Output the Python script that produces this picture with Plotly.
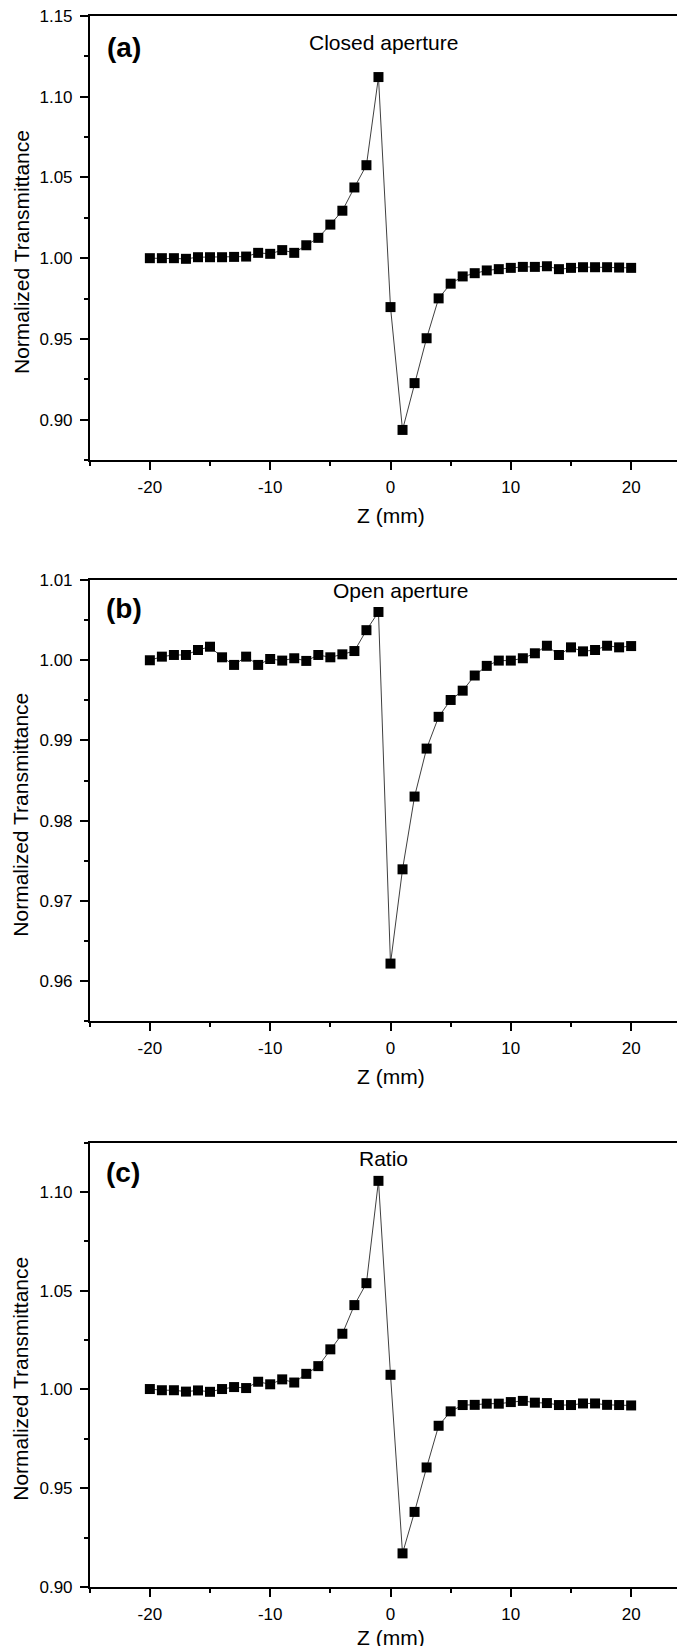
import plotly.graph_objects as go

z_mm = list(range(-20, 21))

closed_aperture = [
    1.000, 1.000, 1.000, 0.9996, 1.0006, 1.0006, 1.0006, 1.0008, 1.001, 1.0033,
    1.0027, 1.005, 1.0033, 1.008, 1.0126, 1.0208, 1.0294, 1.0438, 1.0576, 1.1122,
    0.9697, 0.8936, 0.9226, 0.9504, 0.9751, 0.9842, 0.9887, 0.9907, 0.9924, 0.9932,
    0.994, 0.9946, 0.9946, 0.995, 0.9932, 0.994, 0.9944, 0.9944, 0.9944, 0.9942, 0.994,
]

open_aperture = [
    1.0000, 1.00045, 1.00066, 1.00066, 1.00128, 1.00169, 1.00037, 0.99942, 1.00045, 0.99942,
    1.00016, 0.99996, 1.00025, 0.99992, 1.00066, 1.00037, 1.00074, 1.00115, 1.00375, 1.00602,
    0.96219, 0.97394, 0.98301, 0.98899, 0.99295, 0.99505, 0.99621, 0.9981, 0.9993, 0.99996,
    0.99996, 1.00025, 1.00087, 1.00181, 1.00066, 1.00161, 1.00111, 1.00128, 1.00181, 1.00161, 1.00177,
]

ratio = [
    1.0002, 0.9996, 0.9996, 0.9989, 0.9995, 0.9988, 1.0002, 1.0012, 1.0007, 1.0039,
    1.0026, 1.0051, 1.0035, 1.0079, 1.0118, 1.0203, 1.0282, 1.0427, 1.0538, 1.1056,
    1.0074, 0.917, 0.938, 0.9605, 0.9816, 0.9889, 0.9921, 0.9922, 0.9928, 0.9928,
    0.9936, 0.9942, 0.9933, 0.9931, 0.9921, 0.9921, 0.9929, 0.9929, 0.9922, 0.9921, 0.9919,
]

x_tick_values = [-20, -10, 0, 10, 20]
x_tick_labels = ["-20", "-10", "0", "10", "20"]

panel_labels = ["(a)", "(b)", "(c)"]
panel_titles = ["Closed aperture", "Open aperture", "Ratio"]
x_title = "Z (mm)"
y_title = "Normalized Transmittance"

W, H = 685, 1646
FONT = "Liberation Sans, Arial, sans-serif"

# panel pixel boxes (top, bottom)
left_px, right_px = 81.7, 683.3
boxes = [(8, 452), (572, 1013.3), (1134.5, 1579)]
yranges = [(0.875, 1.15), (0.955, 1.01), (0.90, 1.125)]
ydticks = [(0.05, 0.025), (0.01, 0.005), (0.05, 0.025)]
series = [closed_aperture, open_aperture, ratio]
label_pos = [(115.5, 39), (116, 600), (115, 1164)]
title_pos = [(375, 34), (392.5, 582.5), (375.3, 1150.5)]
xtitle_off = [55.5, 55.5, 50]

fig = go.Figure()
layout = dict(
    width=W, height=H,
    margin=dict(l=0, r=0, t=0, b=0),
    paper_bgcolor="white", plot_bgcolor="white",
    showlegend=False,
    font=dict(family=FONT, color="black"),
)
annotations = []

for i in range(3):
    xa = "x" if i == 0 else f"x{i+1}"
    ya = "y" if i == 0 else f"y{i+1}"
    fig.add_trace(go.Scatter(
        x=z_mm, y=series[i], xaxis=xa, yaxis=ya, mode="lines+markers",
        line=dict(color="#404040", width=1),
        marker=dict(symbol="square", size=10, color="black", line=dict(width=0)),
        cliponaxis=False,
    ))
    top, bot = boxes[i]
    key_x = "xaxis" if i == 0 else f"xaxis{i+1}"
    key_y = "yaxis" if i == 0 else f"yaxis{i+1}"
    axis_common = dict(
        showgrid=False, zeroline=False, showline=True, linecolor="black", linewidth=1.5,
        mirror=True, ticks="outside", ticklen=8, tickwidth=1.5, tickcolor="black",
        tickfont=dict(family=FONT, size=17, color="black"), automargin=False,
        ticklabeloverflow="allow",
    )
    layout[key_x] = dict(
        axis_common, domain=[left_px / W, right_px / W], range=[-25, 25],
        tickmode="array", tickvals=x_tick_values, ticktext=x_tick_labels,
        anchor=ya, ticklabelstandoff=3,
        minor=dict(dtick=5, tick0=0, ticks="outside", ticklen=4, tickwidth=1.5, tickcolor="black"),
    )
    y0, y1 = yranges[i]
    d, md = ydticks[i]
    eps = (y1 - y0) * 1e-4
    layout[key_y] = dict(
        axis_common, domain=[1 - bot / H, 1 - top / H], range=[y0 - eps, y1 + eps],
        dtick=d, tick0=0, tickformat=".2f", anchor=xa, ticklabelstandoff=4,
        minor=dict(dtick=md, tick0=0, ticks="outside", ticklen=4, tickwidth=1.5, tickcolor="black"),
    )
    lx, ly = label_pos[i]
    annotations.append(dict(
        text=f"<b>{panel_labels[i]}</b>", x=lx / W, y=1 - ly / H, xref="paper", yref="paper",
        xanchor="center", yanchor="middle", showarrow=False,
        font=dict(family=FONT, size=28, color="black"),
    ))
    tx, ty = title_pos[i]
    annotations.append(dict(
        text=panel_titles[i], x=tx / W, y=1 - ty / H, xref="paper", yref="paper",
        xanchor="center", yanchor="middle", showarrow=False,
        font=dict(family=FONT, size=21, color="black"),
    ))
    # axis titles
    annotations.append(dict(
        text=x_title, x=(left_px + right_px) / 2 / W, y=1 - (bot + xtitle_off[i]) / H,
        xref="paper", yref="paper", xanchor="center", yanchor="middle", showarrow=False,
        font=dict(family=FONT, size=21, color="black"),
    ))
    annotations.append(dict(
        text=y_title, x=13 / W, y=1 - ((top + bot) / 2 + 14) / H,
        xref="paper", yref="paper", xanchor="center", yanchor="middle", showarrow=False,
        textangle=-90, font=dict(family=FONT, size=21, color="black"),
    ))

layout["annotations"] = annotations
fig.update_layout(**layout)
fig.write_html("out.html")
